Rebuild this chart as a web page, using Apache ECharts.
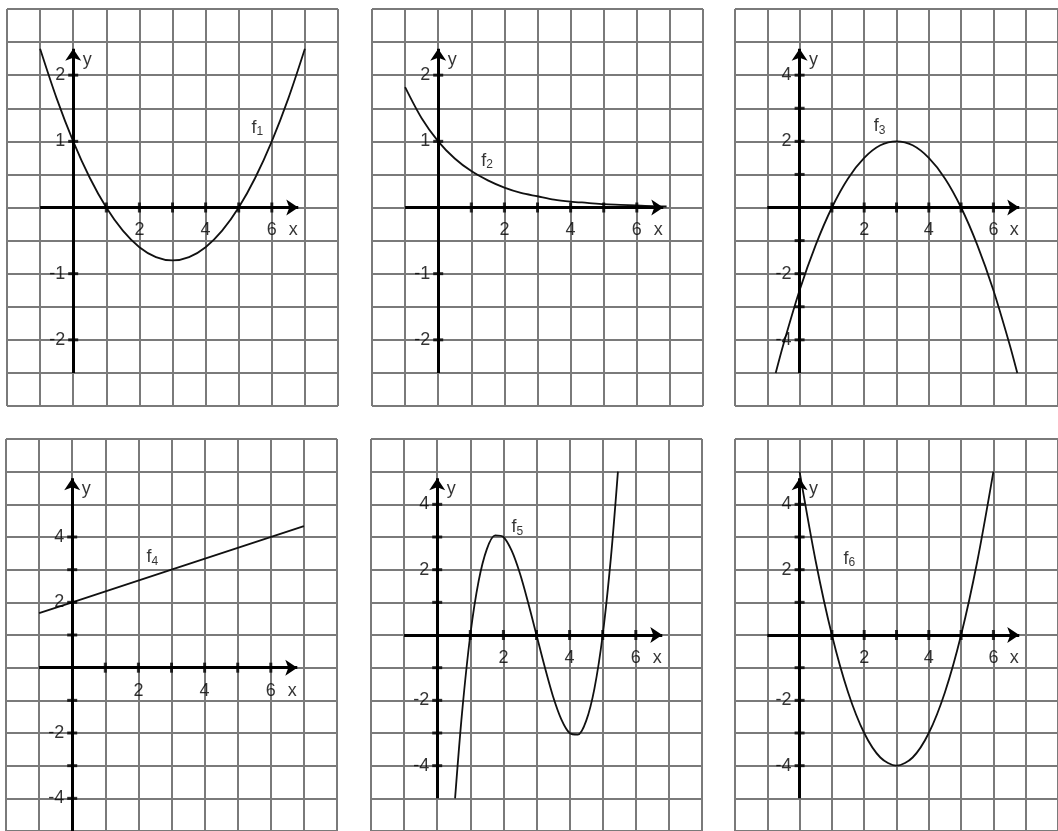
<!DOCTYPE html>
<html>
<head>
<meta charset="utf-8">
<script src="https://cdn.jsdelivr.net/npm/echarts@6/dist/echarts.min.js"></script>
<style>
  html, body { margin: 0; padding: 0; background: #fff; }
  #main { width: 1058px; height: 831px; }
</style>
</head>
<body>
<div id="main"></div>
<script>
// points (x, y)
var f1X = [-1, -0.5, 0, 0.5, 1, 1.5, 2, 2.5, 3, 3.5, 4, 4.5, 5, 5.5, 6, 6.5, 7];
var f1Y = [2.4, 1.65, 1, 0.45, 0, -0.35, -0.6, -0.75, -0.8, -0.75, -0.6, -0.35, 0, 0.45, 1, 1.65, 2.4];

var f2X = [-1, -0.5, 0, 0.5, 1, 1.5, 2, 2.5, 3, 3.5, 4, 4.5, 5, 5.5, 6, 6.5, 6.9];
var f2Y = [1.82, 1.35, 1, 0.74, 0.55, 0.41, 0.3, 0.22, 0.17, 0.12, 0.09, 0.07, 0.05, 0.04, 0.03, 0.02, 0.015];

var f3X = [-0.74, -0.5, 0, 0.5, 1, 1.5, 2, 2.5, 3, 3.5, 4, 4.5, 5, 5.5, 6, 6.5, 6.74];
var f3Y = [-5, -4.13, -2.5, -1.13, 0, 0.88, 1.5, 1.88, 2, 1.88, 1.5, 0.88, 0, -1.13, -2.5, -4.13, -5];

var f4X = [-1, 0, 3, 7];
var f4Y = [1.67, 2, 3, 4.33];

var f5X = [0.54, 0.75, 1, 1.25, 1.5, 1.75, 2, 2.25, 2.5, 2.75, 3, 3.25, 3.5, 3.75, 4, 4.25, 4.5, 4.75, 5, 5.25, 5.46];
var f5Y = [-5, -2.39, 0, 1.64, 2.63, 3.05, 3, 2.58, 1.88, 0.98, 0, -0.98, -1.88, -2.58, -3, -3.05, -2.63, -1.64, 0, 2.39, 5];

var f6X = [0, 0.5, 1, 1.5, 2, 2.5, 3, 3.5, 4, 4.5, 5, 5.5, 6];
var f6Y = [5, 2.25, 0, -1.75, -3, -3.75, -4, -3.75, -3, -1.75, 0, 2.25, 5];

var funcNames = ['1', '2', '3', '4', '5', '6'];

// grid (squared paper) ranges
var xRange = [-2, 8];
var yRanges = [[-3, 3], [-3, 3], [-6, 6], [-5, 7], [-6, 6], [-6, 6]];
var ySteps = [0.5, 0.5, 1, 1, 1, 1];

// drawn coordinate axes
var xAxisSpan = [-1, 6.8];
var yAxisSpans = [[-2.5, 2.4], [-2.5, 2.4], [-5, 4.8], [-5, 5.8], [-5, 4.8], [-5, 4.8]];

// ticks and their labels
var xTicks = [1, 2, 3, 4, 5, 6];
var xTickLabels = ['', '2', '', '4', '', '6'];
var yTicksSmall = [-2, -1, 1, 2];
var yTickLabelsSmall = ['-2', '-1', '1', '2'];
var yTicksBig = [-4, -3, -2, -1, 1, 2, 3, 4];
var yTickLabelsBig = ['-4', '', '-2', '', '', '2', '', '4'];

var curvesX = [f1X, f2X, f3X, f4X, f5X, f6X];
var curvesY = [f1Y, f2Y, f3Y, f4Y, f5Y, f6Y];

var panelLeft = [7, 372, 735, 6, 371, 735];
var panelTop = [9, 9, 9, 439, 439, 439];
var nameAt = [[5.56, 1.2], [1.48, 0.7], [2.48, 2.45], [2.42, 3.38], [2.42, 3.3], [1.54, 2.33]];

var gridColor = '#7a7a7a';
var ink = '#111';
var font = 'Liberation Sans, Arial, sans-serif';

var option = {
    animation: false,
    backgroundColor: '#fff',
    grid: [],
    xAxis: [],
    yAxis: [],
    series: []
};

function zip(xs, ys) {
    var out = [];
    for (var k = 0; k < xs.length; k++) out.push([xs[k], ys[k]]);
    return out;
}

for (var i = 0; i < 6; i++) {
    var yr = yRanges[i];
    var ySpan = yAxisSpans[i];
    var yt = ySteps[i] < 1 ? yTicksSmall : yTicksBig;
    var ytl = ySteps[i] < 1 ? yTickLabelsSmall : yTickLabelsBig;

    option.grid.push({ left: panelLeft[i], top: panelTop[i], width: 331, height: 397 });

    option.xAxis.push({
        type: 'value', gridIndex: i, min: xRange[0], max: xRange[1], interval: 1,
        axisLine: { show: false }, axisTick: { show: false }, axisLabel: { show: false },
        splitLine: { show: true, lineStyle: { color: gridColor, width: 2 } }
    });
    option.yAxis.push({
        type: 'value', gridIndex: i, min: yr[0], max: yr[1], interval: ySteps[i],
        axisLine: { show: false }, axisTick: { show: false }, axisLabel: { show: false },
        splitLine: { show: true, lineStyle: { color: gridColor, width: 2 } }
    });

    // the function graph
    option.series.push({
        type: 'line', xAxisIndex: i, yAxisIndex: i,
        data: zip(curvesX[i], curvesY[i]),
        smooth: i === 3 ? false : 0.3,
        showSymbol: false, silent: true, z: 4,
        lineStyle: { color: ink, width: 1.8 }
    });

    // x ticks + labels, carrying the two axes with arrows
    option.series.push({
        type: 'scatter', xAxisIndex: i, yAxisIndex: i, silent: true, z: 5,
        symbol: 'rect', symbolSize: [3, 10],
        itemStyle: { color: '#000' },
        data: xTicks.map(function (t, k) { return [t, 0, xTickLabels[k]]; }),
        label: {
            show: true, position: 'bottom', distance: 9,
            fontFamily: font, fontSize: 18, color: '#000',
            formatter: function (p) { return p.value[2]; }
        },
        markLine: {
            silent: true, symbol: ['none', 'arrow'], symbolSize: 12,
            label: { show: false },
            lineStyle: { color: '#000', width: 3, type: 'solid' },
            data: [
                [{ coord: [xAxisSpan[0], 0] }, { coord: [xAxisSpan[1], 0] }],
                [{ coord: [0, ySpan[0]] }, { coord: [0, ySpan[1]] }]
            ]
        }
    });

    // y ticks + labels
    option.series.push({
        type: 'scatter', xAxisIndex: i, yAxisIndex: i, silent: true, z: 5,
        symbol: 'rect', symbolSize: [10, 3],
        itemStyle: { color: '#000' },
        data: yt.map(function (t, k) { return [0, t, ytl[k]]; }),
        label: {
            show: true, position: 'left', distance: 3,
            fontFamily: font, fontSize: 18, color: '#000',
            formatter: function (p) { return p.value[2]; }
        }
    });

    // axis names and function name
    option.series.push({
        type: 'scatter', xAxisIndex: i, yAxisIndex: i, silent: true, z: 6,
        symbolSize: 0,
        data: [
            { value: [xAxisSpan[1], 0], label: { formatter: 'x', offset: [-5, 23] } },
            { value: [0, ySpan[1]], label: { formatter: 'y', offset: [14, 11] } },
            { value: nameAt[i], label: { formatter: 'f{s|' + funcNames[i] + '}' } }
        ],
        label: {
            show: true, position: 'inside',
            fontFamily: font, fontSize: 18, color: '#000', lineHeight: 20,
            rich: { s: { fontFamily: font, fontSize: 12, lineHeight: 12, color: '#000', verticalAlign: 'bottom', padding: [10, 0, 0, 0] } }
        }
    });
}

var chart = echarts.init(document.getElementById('main'));
chart.setOption(option);
</script>
</body>
</html>
